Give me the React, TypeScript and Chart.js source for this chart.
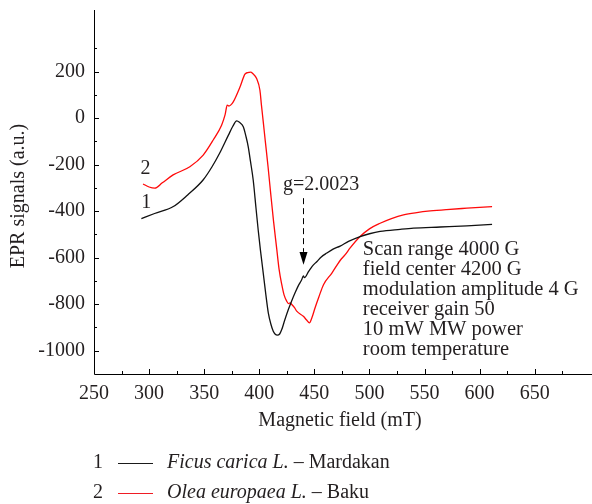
import { useEffect, useRef } from 'react';
import { Chart, registerables } from 'chart.js';

Chart.register(...registerables);

// Curve 1: Ficus carica L. – Mardakan
const ficusField = [293, 305, 322, 335, 349, 357, 364, 372, 376, 379.5, 382, 385.5, 388, 390, 392, 394.5, 397, 399, 401, 403.6, 406, 408.2, 410.5, 412.7, 414.5, 416.4, 418.5, 420.4, 423, 426.4, 429.5, 432.5, 435.5, 438.6, 440, 441, 444.8, 448, 452.4, 456, 461.3, 467, 473.4, 481, 491.5, 500, 509.7, 527.9, 540, 564.3, 588.5, 611.3];
const ficusSignal = [-432, -410, -380, -330, -266, -210, -151, -73, -35, -12, -18, -37, -80, -123, -185, -266, -385, -480, -565, -666, -760, -837, -885, -916, -929, -933, -928, -909, -870, -823, -785, -751, -720, -694, -678, -686, -659, -637, -616, -598, -580, -563, -550, -530, -509, -497, -487, -478, -473, -468, -463, -457];

// Curve 2: Olea europaea L. – Baku
const oleaField = [294.5, 300, 305.2, 312, 321.8, 337, 349.1, 358.2, 365.8, 369, 370.9, 372.5, 374, 376.4, 382.5, 387, 389.5, 392.2, 394, 397.6, 400.6, 402, 403.6, 405.5, 408, 410.5, 413, 415.8, 418, 420.4, 422.5, 424.9, 426.5, 428, 429.5, 432, 434, 440, 443, 445.5, 448, 450.6, 454, 458.3, 465.9, 473.4, 478, 482.5, 491.5, 500, 509.7, 520, 530.9, 543, 555.2, 570, 588.5, 611.3];
const oleaSignal = [-283, -296, -301, -278, -244, -209, -159, -94, -30, 15, 56, 52, 56, 70, 134, 189, 196, 198, 192, 170, 120, 55, -15, -100, -210, -330, -445, -560, -650, -715, -760, -787, -797, -794, -801, -815, -830, -852, -868, -880, -855, -816, -770, -716, -666, -612, -587, -558, -509, -476, -452, -432, -416, -406, -399, -393, -387, -380];

const xTickValues = [250, 300, 350, 400, 450, 500, 550, 600, 650];
const xMinorTicks = [275, 325, 375, 425, 475, 525, 575, 625, 675];
const yTickValues = [-1000, -800, -600, -400, -200, 0, 200];
const yMinorTicks = [-900, -700, -500, -300, -100, 100, 300];

const infoLines = ['Scan range 4000 G', 'field center 4200 G', 'modulation amplitude 4 G', 'receiver gain 50', '10 mW MW power', 'room temperature'];
const gLabel = 'g=2.0023';
const xTitle = 'Magnetic field (mT)';
const yTitle = 'EPR signals (a.u.)';
const legendItems = [
  { num: '1', italic: 'Ficus carica L.', rest: ' \u2013 Mardakan', color: '#1a1a1a' },
  { num: '2', italic: 'Olea europaea L.', rest: ' \u2013 Baku', color: '#ef1c24' },
];

const FONT = '"Liberation Serif", "Times New Roman", serif';
const TEXT = '#231f20';

const overlay = {
  id: 'overlay',
  afterDraw(chart: any) {
    const ctx = chart.ctx as CanvasRenderingContext2D;
    const xs = chart.scales.x;
    const ys = chart.scales.y;
    const { left, right, top, bottom } = chart.chartArea;
    ctx.save();
    ctx.strokeStyle = '#000';
    ctx.lineWidth = 1;
    ctx.beginPath();
    // axes
    ctx.moveTo(left + 0.5, top);
    ctx.lineTo(left + 0.5, bottom + 0.5);
    ctx.lineTo(right, bottom + 0.5);
    // x ticks (inward)
    xTickValues.forEach((v) => {
      const px = Math.round(xs.getPixelForValue(v)) + 0.5;
      ctx.moveTo(px, bottom);
      ctx.lineTo(px, bottom - 5);
    });
    xMinorTicks.forEach((v) => {
      const px = Math.round(xs.getPixelForValue(v)) + 0.5;
      ctx.moveTo(px, bottom);
      ctx.lineTo(px, bottom - 3);
    });
    yTickValues.forEach((v) => {
      const py = Math.round(ys.getPixelForValue(v)) + 0.5;
      ctx.moveTo(left, py);
      ctx.lineTo(left + 5, py);
    });
    yMinorTicks.forEach((v) => {
      const py = Math.round(ys.getPixelForValue(v)) + 0.5;
      ctx.moveTo(left, py);
      ctx.lineTo(left + 3, py);
    });
    ctx.stroke();

    ctx.fillStyle = TEXT;
    ctx.font = `20px ${FONT}`;
    ctx.textBaseline = 'middle';

    // curve numbers
    ctx.textAlign = 'center';
    ctx.fillText('1', xs.getPixelForValue(297.5), ys.getPixelForValue(-364));
    ctx.fillText('2', xs.getPixelForValue(296.7), ys.getPixelForValue(-216));

    // g label and arrow
    ctx.textAlign = 'left';
    ctx.fillText(gLabel, xs.getPixelForValue(421.5), ys.getPixelForValue(-287));
    const ax = Math.round(xs.getPixelForValue(440)) + 0.5;
    const a0 = ys.getPixelForValue(-344);
    const aBase = ys.getPixelForValue(-575);
    const aTip = ys.getPixelForValue(-630);
    ctx.beginPath();
    ctx.setLineDash([6, 4]);
    ctx.moveTo(ax, a0);
    ctx.lineTo(ax, aBase);
    ctx.stroke();
    ctx.setLineDash([]);
    ctx.beginPath();
    ctx.moveTo(ax - 4, aBase);
    ctx.lineTo(ax + 4, aBase);
    ctx.lineTo(ax, aTip);
    ctx.closePath();
    ctx.fillStyle = '#000';
    ctx.fill();

    // info block
    ctx.fillStyle = TEXT;
    ctx.font = `20.5px ${FONT}`;
    const ix = xs.getPixelForValue(494);
    const iy = ys.getPixelForValue(-566);
    infoLines.forEach((line, i) => {
      ctx.fillText(line, ix, iy + i * 20);
    });

    // axis titles
    ctx.font = `20px ${FONT}`;
    ctx.textAlign = 'center';
    ctx.fillText(xTitle, 340, 421);
    ctx.save();
    ctx.translate(19, 196);
    ctx.rotate(-Math.PI / 2);
    ctx.fillText(yTitle, 0, 0);
    ctx.restore();

    // legend
    legendItems.forEach((item, i) => {
      const y = 463 + i * 30;
      ctx.fillStyle = TEXT;
      ctx.textAlign = 'center';
      ctx.font = `20px ${FONT}`;
      ctx.fillText(item.num, 98, y);
      ctx.strokeStyle = item.color;
      ctx.lineWidth = 1;
      ctx.beginPath();
      ctx.moveTo(118, Math.round(y) + 0.5);
      ctx.lineTo(153, Math.round(y) + 0.5);
      ctx.stroke();
      ctx.textAlign = 'left';
      ctx.font = `italic 20px ${FONT}`;
      ctx.fillText(item.italic, 167, y);
      const w = ctx.measureText(item.italic).width;
      ctx.font = `20px ${FONT}`;
      ctx.fillText(item.rest, 167 + w, y);
    });
    ctx.restore();
  },
};

export default function App() {
  const canvasRef = useRef<HTMLCanvasElement | null>(null);

  useEffect(() => {
    if (!canvasRef.current) return;
    const chart = new Chart(canvasRef.current, {
      type: 'scatter',
      data: {
        datasets: [
          {
            label: 'Ficus carica L. – Mardakan',
            data: ficusField.map((x, i) => ({ x, y: ficusSignal[i] })),
            showLine: true,
            borderColor: '#111111',
            borderWidth: 1.3,
            pointRadius: 0,
            cubicInterpolationMode: 'monotone',
          },
          {
            label: 'Olea europaea L. – Baku',
            data: oleaField.map((x, i) => ({ x, y: oleaSignal[i] })),
            showLine: true,
            borderColor: '#ff0a0a',
            borderWidth: 1.3,
            pointRadius: 0,
            cubicInterpolationMode: 'monotone',
          },
        ],
      },
      options: {
        animation: false,
        responsive: false,
        devicePixelRatio: 1,
        layout: { padding: { top: 10, right: 0, left: 0, bottom: 0 } },
        plugins: {
          legend: { display: false },
          tooltip: { enabled: false },
        },
        scales: {
          x: {
            type: 'linear',
            min: 250,
            max: 702,
            grid: { display: false, drawTicks: false },
            border: { display: false },
            afterBuildTicks: (scale: any) => {
              scale.ticks = xTickValues.map((v) => ({ value: v }));
            },
            afterFit: (scale: any) => {
              scale.height = 130;
              scale.paddingLeft = 0;
              scale.paddingRight = 0;
            },
            ticks: {
              padding: 8,
              color: TEXT,
              font: { family: FONT, size: 20 },
              maxRotation: 0,
              autoSkip: false,
              callback: (v: any) => String(v),
            },
          },
          y: {
            type: 'linear',
            min: -1100,
            max: 465,
            grid: { display: false, drawTicks: false },
            border: { display: false },
            afterBuildTicks: (scale: any) => {
              scale.ticks = yTickValues.map((v) => ({ value: v }));
            },
            afterFit: (scale: any) => {
              scale.width = 94;
              scale.paddingTop = 0;
              scale.paddingBottom = 0;
            },
            ticks: {
              padding: 9,
              color: TEXT,
              font: { family: FONT, size: 20 },
              autoSkip: false,
              callback: (v: any) => String(v),
            },
          },
        },
      },
      plugins: [overlay],
    } as any);
    return () => chart.destroy();
  }, []);

  return (
    <div style={{ position: 'fixed', left: 0, top: 0, width: 592, height: 504, background: '#fff' }}>
      <canvas ref={canvasRef} width={592} height={504} />
    </div>
  );
}
